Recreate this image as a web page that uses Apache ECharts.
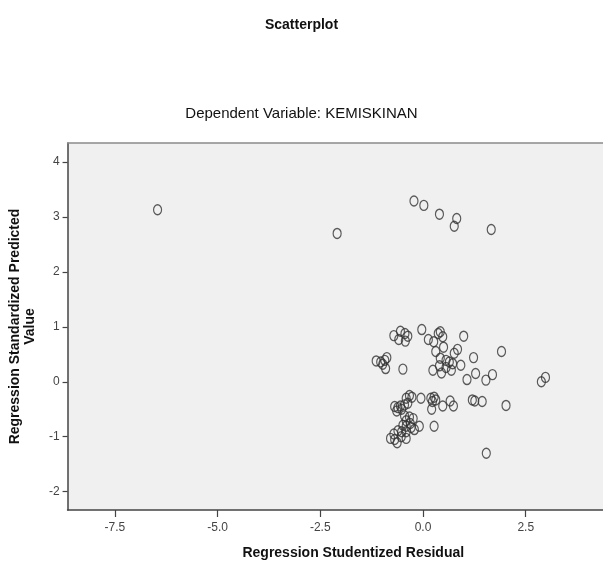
<!DOCTYPE html>
<html>
<head>
<meta charset="utf-8">
<script src="https://cdn.jsdelivr.net/npm/echarts@6/dist/echarts.min.js"></script>
<style>html,body{margin:0;padding:0;background:#fff;}#c{width:603px;height:566px;}</style>
</head>
<body>
<div id="c"></div>
<script>
var residuals = [-6.46,-2.09,-0.22,0.02,0.40,0.82,0.76,1.66,1.91,1.69,1.53,2.98,2.88,1.44,2.02,
 -0.71,-0.55,-0.59,-0.44,-0.37,-0.43,-0.03,0.13,0.26,0.37,0.42,0.48,0.99,0.50,0.31,0.84,0.76,1.23,
 0.42,0.56,0.64,0.72,0.92,0.40,0.56,0.69,0.45,0.24,1.07,1.28,-0.49,
 -1.14,-1.03,-0.93,-0.88,-0.98,-0.91,
 -0.33,-0.27,-0.41,-0.37,-0.05,0.19,0.27,0.31,0.23,0.21,0.48,0.66,0.74,1.20,1.26,1.54,0.27,-0.09,
 -0.69,-0.61,-0.55,-0.52,-0.64,-0.45,
 -0.45,-0.33,-0.24,-0.41,-0.31,-0.41,-0.29,-0.21,-0.49,
 -0.61,-0.52,-0.71,-0.79,-0.69,-0.63,-0.53,-0.41,-0.41];
var predicted = [3.13,2.70,3.29,3.21,3.05,2.97,2.83,2.77,0.55,0.13,0.03,0.08,0.00,-0.36,-0.43,
 0.84,0.92,0.77,0.88,0.83,0.74,0.95,0.77,0.73,0.88,0.91,0.82,0.83,0.63,0.55,0.59,0.52,0.44,
 0.43,0.39,0.36,0.33,0.30,0.29,0.26,0.21,0.16,0.21,0.04,0.15,0.23,
 0.38,0.36,0.39,0.44,0.32,0.24,
 -0.25,-0.28,-0.30,-0.39,-0.30,-0.30,-0.28,-0.33,-0.36,-0.50,-0.44,-0.35,-0.44,-0.33,-0.35,-1.30,-0.81,-0.81,
 -0.45,-0.47,-0.44,-0.50,-0.53,-0.42,
 -0.62,-0.64,-0.67,-0.71,-0.76,-0.81,-0.83,-0.87,-0.79,
 -0.89,-0.91,-0.95,-1.03,-1.05,-1.11,-1.00,-1.03,-0.91];
var xTicks = [-7.5,-5.0,-2.5,0.0,2.5];
var yTicks = [-2,-1,0,1,2,3,4];

var points = residuals.map(function(x,i){return [x, predicted[i]];});
var tickFont = "'Liberation Sans Narrow','Liberation Sans',Arial,sans-serif";
var chart = echarts.init(document.getElementById('c'), null, {renderer:'canvas'});
chart.setOption({
  animation:false,
  backgroundColor:'#ffffff',
  title:[
    {text:'Scatterplot', left:'center', top:13,
     textStyle:{fontFamily:'Liberation Sans,Arial', fontSize:14, fontWeight:'bold', color:'#111'}},
    {text:'Dependent Variable: KEMISKINAN', left:'center', top:101,
     textStyle:{fontFamily:'Liberation Sans,Arial', fontSize:15, fontWeight:'normal', color:'#111'}}
  ],
  grid:{left:65, top:143, right:0, bottom:56, show:true, backgroundColor:'#f0f0f0', borderWidth:0},
  xAxis:[{
    type:'value', min:-8.65, max:4.38,
    name:'Regression Studentized Residual', nameLocation:'middle', nameGap:36,
    nameTextStyle:{fontFamily:'Liberation Sans,Arial', fontSize:14, fontWeight:'bold', color:'#111', padding:[0,0,0,36]},
    axisLine:{show:true, onZero:false, lineStyle:{color:'#444', width:1.5}},
    axisTick:{show:true, length:7, inside:false, customValues:xTicks, lineStyle:{color:'#444', width:1.2}},
    axisLabel:{customValues:xTicks, margin:12, fontFamily:tickFont, fontSize:12, color:'#444',
      formatter:function(v){return v.toFixed(1);}},
    splitLine:{show:false}
  },{
    type:'value', position:'top', min:-8.65, max:4.38,
    axisLine:{show:true, onZero:false, lineStyle:{color:'#8a8a8a', width:1.5}},
    axisTick:{show:false}, axisLabel:{show:false}, splitLine:{show:false}
  }],
  yAxis:{
    type:'value', min:-2.333, max:4.345,
    name:'Regression Standardized Predicted\nValue', nameLocation:'middle', nameGap:22, nameRotate:90,
    nameTextStyle:{fontFamily:'Liberation Sans,Arial', fontSize:14, fontWeight:'bold', color:'#111', lineHeight:15},
    axisLine:{show:true, onZero:false, lineStyle:{color:'#444', width:1.5}},
    axisTick:{show:true, length:5, customValues:yTicks, lineStyle:{color:'#444', width:1.2}},
    axisLabel:{customValues:yTicks, margin:8, fontFamily:tickFont, fontSize:12, color:'#444'},
    splitLine:{show:false}
  },
  series:[{
    type:'scatter', data:points, symbol:'circle', symbolSize:[8,10],
    itemStyle:{color:'rgba(0,0,0,0)', borderColor:'#333', borderWidth:1.3},
    emphasis:{disabled:true}
  }]
});
</script>
</body>
</html>
